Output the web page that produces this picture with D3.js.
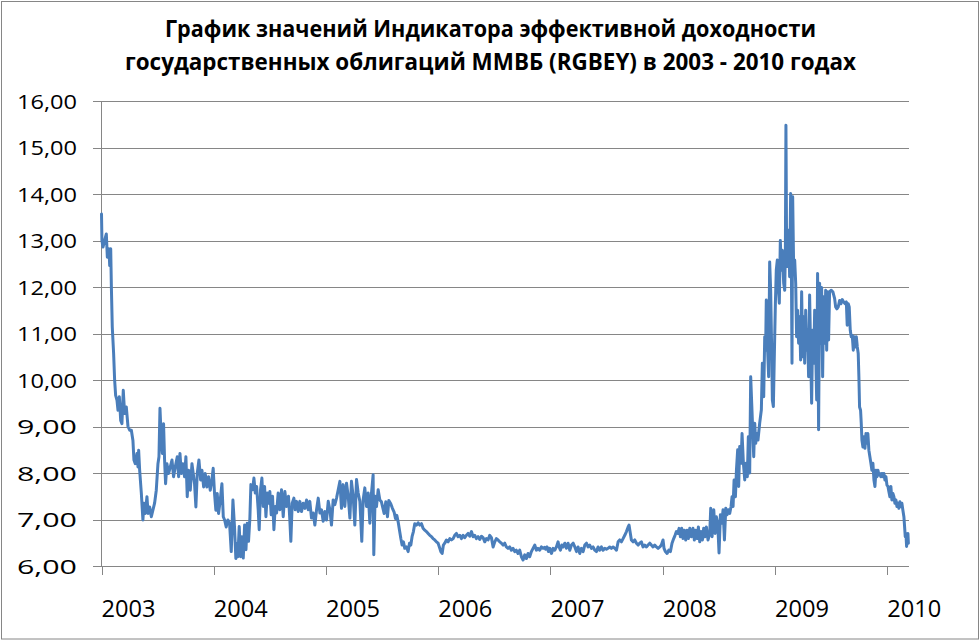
<!DOCTYPE html>
<html>
<head>
<meta charset="utf-8">
<script src="https://cdn.jsdelivr.net/npm/d3@7"></script>
<style>
    body { margin: 0; background: #fff; }
    svg { display: block; }
</style>
</head>
<body>
<div id="chart"></div>
<script>
const titleLines = [
    "График значений Индикатора эффективной доходности",
    "государственных облигаций ММВБ (RGBEY) в 2003 - 2010 годах"
]
const yTicks = [6, 7, 8, 9, 10, 11, 12, 13, 14, 15, 16]
const yearTicks = [2003, 2004, 2005, 2006, 2007, 2008, 2009, 2010]

// position of each observation in decimal years
const yearPos = [
    // 2003
    2003.000, 2003.004, 2003.013, 2003.028, 2003.043, 2003.052, 2003.067, 2003.073, 2003.082, 2003.088,
    2003.096, 2003.108, 2003.117, 2003.126, 2003.138, 2003.147, 2003.159, 2003.171, 2003.182, 2003.194,
    2003.206, 2003.221, 2003.236, 2003.251, 2003.266, 2003.280, 2003.289, 2003.301, 2003.316, 2003.325,
    2003.331, 2003.340, 2003.355, 2003.369, 2003.378, 2003.390, 2003.405, 2003.415, 2003.429, 2003.444,
    2003.458, 2003.473, 2003.488, 2003.503, 2003.512, 2003.521, 2003.533, 2003.542, 2003.553, 2003.562,
    2003.571, 2003.583, 2003.598, 2003.613, 2003.628, 2003.642, 2003.657, 2003.675, 2003.687, 2003.699,
    2003.711, 2003.725, 2003.740, 2003.752, 2003.764, 2003.776, 2003.791, 2003.806, 2003.821, 2003.829,
    2003.841, 2003.853, 2003.868, 2003.883, 2003.895, 2003.910, 2003.924, 2003.939, 2003.954, 2003.969,
    2003.984, 2003.995,
    // 2004
    2004.007, 2004.019, 2004.031, 2004.043, 2004.058, 2004.073, 2004.085, 2004.097, 2004.111, 2004.126,
    2004.141, 2004.156, 2004.171, 2004.185, 2004.197, 2004.203, 2004.215, 2004.227, 2004.239, 2004.251,
    2004.263, 2004.275, 2004.287, 2004.298, 2004.310, 2004.322, 2004.331, 2004.346, 2004.358, 2004.370,
    2004.382, 2004.396, 2004.405, 2004.417, 2004.429, 2004.441, 2004.453, 2004.465, 2004.477, 2004.488,
    2004.500, 2004.512, 2004.524, 2004.536, 2004.548, 2004.560, 2004.574, 2004.589, 2004.604, 2004.619,
    2004.634, 2004.649, 2004.666, 2004.678, 2004.687, 2004.699, 2004.714, 2004.726, 2004.738, 2004.753,
    2004.767, 2004.782, 2004.797, 2004.812, 2004.827, 2004.842, 2004.856, 2004.871, 2004.886, 2004.901,
    2004.916, 2004.931, 2004.946, 2004.960, 2004.975, 2004.990,
    // 2005
    2005.005, 2005.020, 2005.035, 2005.049, 2005.064, 2005.079, 2005.094, 2005.109, 2005.124, 2005.138,
    2005.153, 2005.168, 2005.183, 2005.198, 2005.213, 2005.227, 2005.242, 2005.257, 2005.272, 2005.287,
    2005.302, 2005.319, 2005.331, 2005.346, 2005.361, 2005.376, 2005.391, 2005.403, 2005.420, 2005.426,
    2005.438, 2005.450, 2005.465, 2005.480, 2005.494, 2005.518, 2005.533, 2005.548, 2005.560, 2005.577,
    2005.592, 2005.607, 2005.619, 2005.631, 2005.643, 2005.655, 2005.667, 2005.678, 2005.690, 2005.702,
    2005.717, 2005.732, 2005.744, 2005.756, 2005.767, 2005.779, 2005.791, 2005.806, 2005.821, 2005.836,
    2005.851, 2005.865, 2005.880, 2005.895, 2005.910, 2005.925, 2005.940, 2005.954, 2005.969, 2005.984,
    2005.999,
    // 2006
    2006.014, 2006.023, 2006.035, 2006.046, 2006.058, 2006.073, 2006.088, 2006.103, 2006.118, 2006.133,
    2006.147, 2006.162, 2006.177, 2006.192, 2006.207, 2006.222, 2006.236, 2006.251, 2006.266, 2006.281,
    2006.296, 2006.311, 2006.325, 2006.340, 2006.355, 2006.370, 2006.385, 2006.400, 2006.415, 2006.429,
    2006.444, 2006.459, 2006.474, 2006.489, 2006.504, 2006.518, 2006.533, 2006.548, 2006.563, 2006.578,
    2006.593, 2006.607, 2006.622, 2006.637, 2006.652, 2006.667, 2006.682, 2006.696, 2006.711, 2006.726,
    2006.741, 2006.756, 2006.771, 2006.786, 2006.800, 2006.815, 2006.830, 2006.845, 2006.860, 2006.875,
    2006.889, 2006.904, 2006.919, 2006.934, 2006.949, 2006.958, 2006.970, 2006.982, 2006.994,
    // 2007
    2007.009, 2007.024, 2007.039, 2007.053, 2007.068, 2007.077, 2007.089, 2007.101, 2007.113, 2007.128,
    2007.142, 2007.157, 2007.172, 2007.187, 2007.202, 2007.217, 2007.232, 2007.246, 2007.261, 2007.276,
    2007.291, 2007.306, 2007.321, 2007.335, 2007.350, 2007.365, 2007.380, 2007.395, 2007.410, 2007.424,
    2007.439, 2007.454, 2007.469, 2007.484, 2007.499, 2007.513, 2007.528, 2007.543, 2007.558, 2007.573,
    2007.588, 2007.603, 2007.617, 2007.632, 2007.647, 2007.662, 2007.677, 2007.692, 2007.700, 2007.709,
    2007.721, 2007.736, 2007.751, 2007.766, 2007.781, 2007.795, 2007.810, 2007.825, 2007.840, 2007.855,
    2007.870, 2007.885, 2007.899, 2007.914, 2007.929, 2007.944, 2007.959, 2007.974, 2007.988,
    // 2008
    2008.003, 2008.012, 2008.024, 2008.039, 2008.054, 2008.069, 2008.083, 2008.098, 2008.110, 2008.122,
    2008.134, 2008.146, 2008.158, 2008.170, 2008.181, 2008.193, 2008.205, 2008.217, 2008.229, 2008.241,
    2008.256, 2008.270, 2008.282, 2008.294, 2008.306, 2008.318, 2008.330, 2008.342, 2008.354, 2008.365,
    2008.377, 2008.389, 2008.404, 2008.419, 2008.428, 2008.440, 2008.455, 2008.467, 2008.478, 2008.490,
    2008.502, 2008.514, 2008.526, 2008.538, 2008.550, 2008.562, 2008.573, 2008.585, 2008.597, 2008.609,
    2008.618, 2008.627, 2008.636, 2008.648, 2008.657, 2008.668, 2008.677, 2008.686, 2008.698, 2008.707,
    2008.719, 2008.731, 2008.743, 2008.754, 2008.763, 2008.775, 2008.784, 2008.793, 2008.802, 2008.811,
    2008.820, 2008.829, 2008.838, 2008.849, 2008.864, 2008.879, 2008.888, 2008.900, 2008.909, 2008.917,
    2008.923, 2008.935, 2008.944, 2008.953, 2008.962, 2008.971, 2008.977, 2008.986, 2008.995,
    // 2009
    2009.004, 2009.012, 2009.021, 2009.030, 2009.039, 2009.048, 2009.057, 2009.066, 2009.078, 2009.087,
    2009.093, 2009.098, 2009.104, 2009.113, 2009.122, 2009.131, 2009.140, 2009.146, 2009.152, 2009.158,
    2009.167, 2009.176, 2009.185, 2009.193, 2009.202, 2009.211, 2009.220, 2009.229, 2009.238, 2009.247,
    2009.256, 2009.265, 2009.274, 2009.283, 2009.291, 2009.300, 2009.309, 2009.318, 2009.327, 2009.336,
    2009.345, 2009.354, 2009.363, 2009.372, 2009.380, 2009.389, 2009.398, 2009.407, 2009.416, 2009.425,
    2009.434, 2009.443, 2009.452, 2009.461, 2009.470, 2009.478, 2009.487, 2009.502, 2009.517, 2009.532,
    2009.541, 2009.552, 2009.564, 2009.576, 2009.588, 2009.600, 2009.612, 2009.624, 2009.636, 2009.644,
    2009.653, 2009.662, 2009.671, 2009.680, 2009.689, 2009.698, 2009.707, 2009.716, 2009.725, 2009.734,
    2009.742, 2009.748, 2009.754, 2009.763, 2009.769, 2009.775, 2009.784, 2009.793, 2009.802, 2009.811,
    2009.820, 2009.828, 2009.837, 2009.846, 2009.855, 2009.864, 2009.873, 2009.882, 2009.891, 2009.900,
    2009.909, 2009.918, 2009.926, 2009.935, 2009.944, 2009.953, 2009.962, 2009.971, 2009.980, 2009.989,
    2009.998,
    // 2010
    2010.007, 2010.015, 2010.024, 2010.033, 2010.042, 2010.051, 2010.060, 2010.069, 2010.078, 2010.087,
    2010.096, 2010.105, 2010.113, 2010.122, 2010.131, 2010.140, 2010.149, 2010.155, 2010.161, 2010.167,
    2010.173, 2010.179, 2010.185, 2010.189
]

// RGBEY, % per annum
const rgbey = [
    // 2003
    13.57, 13.00, 12.86, 13.00, 13.14, 12.64, 12.82, 12.46, 12.82, 12.00,
    11.14, 10.57, 10.00, 9.67, 9.56, 9.35, 9.64, 9.13, 9.06, 9.78,
    9.28, 9.42, 9.00, 8.92, 8.92, 8.70, 8.28, 8.20, 8.42, 8.13,
    8.49, 8.06, 7.56, 6.99, 7.35, 7.13, 7.49, 7.13, 7.27, 7.06,
    7.20, 7.35, 7.63, 8.20, 8.35, 9.39, 8.70, 8.42, 9.06, 8.28,
    7.77, 8.20, 7.99, 8.13, 8.28, 7.92, 8.13, 8.35, 7.92, 8.42,
    7.99, 8.20, 7.92, 8.35, 7.49, 8.06, 7.63, 8.20, 7.92, 7.77,
    7.27, 7.99, 8.28, 7.85, 8.06, 7.70, 7.99, 7.70, 7.92, 7.63,
    7.85, 8.10,
    // 2004
    7.56, 7.20, 7.56, 7.13, 7.42, 7.77, 7.06, 6.99, 6.84, 6.99,
    6.92, 6.31, 7.42, 6.84, 6.16, 6.49, 6.20, 6.85, 6.20, 6.63,
    6.17, 6.88, 6.35, 6.92, 6.53, 7.03, 7.75, 7.64, 7.89, 7.57,
    7.71, 7.21, 6.78, 7.64, 7.89, 7.28, 7.71, 7.06, 7.57, 7.35,
    7.60, 7.10, 7.50, 6.78, 7.28, 7.14, 7.57, 7.21, 7.64, 7.06,
    7.60, 7.28, 7.50, 6.99, 6.53, 7.35, 7.46, 7.21, 7.39, 7.17,
    7.39, 7.17, 7.35, 7.24, 7.42, 7.21, 7.39, 7.03, 7.14, 6.88,
    7.21, 7.46, 7.14, 7.21, 6.96, 7.17,
    // 2005
    6.99, 7.39, 7.21, 6.88, 7.42, 7.32, 7.46, 7.64, 7.82, 7.24,
    7.75, 7.28, 7.78, 7.50, 7.03, 7.82, 7.50, 6.88, 7.86, 7.57,
    7.39, 6.53, 7.42, 7.68, 7.28, 7.57, 6.92, 7.50, 7.96, 6.24,
    7.50, 7.28, 7.64, 7.42, 7.38, 7.13, 7.38, 7.06, 7.41, 7.34,
    7.24, 7.16, 7.02, 7.09, 6.95, 6.77, 6.59, 6.45, 6.52, 6.38,
    6.41, 6.31, 6.49, 6.45, 6.63, 6.74, 6.91, 6.88, 6.93, 6.88,
    6.91, 6.81, 6.77, 6.74, 6.70, 6.66, 6.63, 6.59, 6.56, 6.52,
    6.49,
    // 2006
    6.38, 6.31, 6.27, 6.45, 6.49, 6.56, 6.52, 6.59, 6.56, 6.59,
    6.66, 6.70, 6.63, 6.66, 6.59, 6.66, 6.61, 6.66, 6.70, 6.64,
    6.74, 6.63, 6.66, 6.59, 6.63, 6.57, 6.64, 6.61, 6.52, 6.59,
    6.56, 6.66, 6.61, 6.41, 6.52, 6.59, 6.56, 6.52, 6.49, 6.45,
    6.49, 6.41, 6.38, 6.41, 6.34, 6.38, 6.31, 6.34, 6.27, 6.34,
    6.20, 6.13, 6.24, 6.16, 6.27, 6.20, 6.31, 6.38, 6.45, 6.34,
    6.38, 6.34, 6.41, 6.38, 6.40, 6.36, 6.41, 6.31, 6.38,
    // 2007
    6.27, 6.38, 6.34, 6.41, 6.52, 6.41, 6.34, 6.45, 6.41, 6.49,
    6.38, 6.49, 6.34, 6.45, 6.49, 6.41, 6.31, 6.41, 6.27, 6.38,
    6.31, 6.45, 6.49, 6.41, 6.45, 6.38, 6.41, 6.34, 6.31, 6.41,
    6.34, 6.41, 6.34, 6.38, 6.36, 6.38, 6.41, 6.38, 6.41, 6.38,
    6.34, 6.52, 6.56, 6.52, 6.59, 6.66, 6.74, 6.84, 6.88, 6.74,
    6.56, 6.52, 6.56, 6.49, 6.45, 6.49, 6.52, 6.41, 6.45, 6.41,
    6.45, 6.49, 6.45, 6.41, 6.45, 6.41, 6.38, 6.41, 6.45,
    // 2008
    6.56, 6.38, 6.31, 6.27, 6.34, 6.31, 6.49, 6.59, 6.66, 6.74,
    6.70, 6.81, 6.63, 6.81, 6.59, 6.77, 6.56, 6.77, 6.59, 6.81,
    6.63, 6.81, 6.56, 6.77, 6.59, 6.84, 6.52, 6.74, 6.56, 6.81,
    6.63, 6.84, 6.56, 6.70, 7.24, 6.63, 7.21, 6.70, 7.06, 6.92,
    6.28, 7.10, 6.92, 7.21, 6.56, 7.24, 7.10, 7.21, 7.13, 7.28,
    7.49, 7.28, 7.85, 7.49, 8.06, 8.50, 7.71, 8.57, 8.21, 8.85,
    8.21, 7.85, 8.21, 7.92, 8.78, 8.00, 10.07, 9.50, 8.93, 8.35,
    9.07, 8.64, 8.85, 8.71, 9.07, 9.36, 10.36, 9.64, 10.93, 10.64,
    11.72, 10.64, 10.07, 12.54, 11.93, 10.64, 9.57, 9.43, 10.57,
    // 2009
    11.65, 12.36, 12.58, 11.99, 11.65, 13.00, 12.36, 12.79, 12.08, 11.93,
    12.79, 15.48, 12.79, 12.44, 13.22, 12.22, 14.01, 12.65, 10.36, 13.94,
    12.36, 12.58, 12.08, 10.93, 11.50, 10.79, 11.36, 10.43, 11.90, 10.50,
    11.36, 10.36, 11.50, 10.64, 11.07, 10.07, 11.83, 10.64, 9.50, 11.07,
    10.36, 11.50, 10.64, 9.57, 12.29, 8.93, 12.08, 10.79, 11.99, 10.07,
    11.79, 10.79, 11.93, 10.64, 11.90, 10.86, 11.90, 11.93, 11.89, 11.75,
    11.57, 11.53, 11.57, 11.71, 11.64, 11.73, 11.68, 11.64, 11.68, 11.18,
    11.64, 11.57, 11.07, 10.93, 10.96, 10.64, 10.93, 10.71, 10.93, 10.71,
    10.57, 10.07, 9.42, 9.35, 9.07, 8.71, 8.56, 8.78, 8.53, 8.85,
    8.64, 8.85, 8.49, 8.35, 8.21, 8.06, 8.21, 7.85, 7.71, 8.06,
    7.92, 8.06, 7.96, 7.99, 7.92, 7.99, 7.92, 7.99, 7.85, 7.92,
    7.74,
    // 2010
    7.71, 7.60, 7.49, 7.71, 7.42, 7.56, 7.49, 7.35, 7.42, 7.28,
    7.35, 7.24, 7.38, 7.28, 7.35, 7.20, 7.06, 6.85, 6.63, 6.70,
    6.42, 6.56, 6.70, 6.49
]

const width = 980, height = 641;
const plot = { left: 101.5, right: 908.5, top: 101, bottom: 566 };
const gridColor = "#868686";
const lineColor = "#4a7ebb";
const fontFamily = "'Open Sans', 'DejaVu Sans', sans-serif";

const svg = d3.select("#chart")
    .append("svg")
    .attr("width", width)
    .attr("height", height);

// chart area with thin grey frame
svg.append("rect")
    .attr("x", 1.5)
    .attr("y", 1.5)
    .attr("width", 977)
    .attr("height", 637.5)
    .attr("fill", "#fff")
    .attr("stroke", gridColor)
    .attr("stroke-width", 1);

// scales
const x = d3.scaleLinear()
    .domain([2003, 2010.19])
    .range([plot.left, plot.right]);

const y = d3.scaleLinear()
    .domain([d3.min(yTicks), d3.max(yTicks)])
    .range([plot.bottom, plot.top]);

// horizontal gridlines (also act as the small left ticks)
svg.append("g")
    .attr("transform", "translate(" + plot.left + ",0)")
    .call(d3.axisLeft(y)
        .tickValues(yTicks)
        .tickSize(-(plot.right - plot.left))
        .tickFormat(""))
    .call(g => g.select(".domain").remove())
    .call(g => g.selectAll("line")
        .attr("x1", -9)
        .attr("stroke", gridColor)
        .attr("stroke-width", 1)
        .attr("shape-rendering", "crispEdges"));

// y axis labels, russian style decimal comma
const fmt = d3.format(".2f");
svg.append("g")
    .selectAll("text")
    .data(yTicks)
    .enter()
    .append("text")
    .attr("x", 77)
    .attr("y", d => y(d) + 7.5)
    .attr("text-anchor", "end")
    .attr("font-family", fontFamily)
    .attr("font-size", 20.5)
    .attr("textLength", 60)
    .attr("lengthAdjust", "spacingAndGlyphs")
    .attr("fill", "#000")
    .text(d => fmt(d).replace(".", ","));

// y axis line
svg.append("line")
    .attr("x1", plot.left).attr("x2", plot.left)
    .attr("y1", plot.top).attr("y2", plot.bottom)
    .attr("stroke", gridColor)
    .attr("shape-rendering", "crispEdges");

// x axis with year ticks
const xAxis = svg.append("g")
    .attr("transform", "translate(0," + plot.bottom + ")")
    .call(d3.axisBottom(x)
        .tickValues(yearTicks)
        .tickSize(9)
        .tickSizeOuter(0)
        .tickFormat(d3.format("d")));

xAxis.select(".domain")
    .attr("stroke", gridColor)
    .attr("shape-rendering", "crispEdges");
xAxis.selectAll("line")
    .attr("stroke", gridColor)
    .attr("shape-rendering", "crispEdges");
xAxis.selectAll("text")
    .attr("x", 26.5)
    .attr("y", 51)
    .attr("dy", 0)
    .attr("fill", "#000")
    .attr("font-family", fontFamily)
    .attr("font-size", 23)
    .attr("textLength", 54)
    .attr("lengthAdjust", "spacingAndGlyphs");

// the yield line
const line = d3.line()
    .x((d, i) => x(yearPos[i]))
    .y(d => y(d));

svg.append("path")
    .datum(rgbey)
    .attr("d", line)
    .attr("fill", "none")
    .attr("stroke", lineColor)
    .attr("stroke-width", 3)
    .attr("stroke-linejoin", "round")
    .attr("stroke-linecap", "round");

// title, two bold lines
const titleWidths = [651, 731];
svg.append("g")
    .selectAll("text")
    .data(titleLines)
    .enter()
    .append("text")
    .attr("x", 490.5)
    .attr("y", (d, i) => 37 + i * 32.5)
    .attr("text-anchor", "middle")
    .attr("font-family", fontFamily)
    .attr("font-weight", "bold")
    .attr("font-size", 23.5)
    .attr("textLength", (d, i) => titleWidths[i])
    .attr("lengthAdjust", "spacingAndGlyphs")
    .attr("fill", "#000")
    .text(d => d);
</script>
</body>
</html>
